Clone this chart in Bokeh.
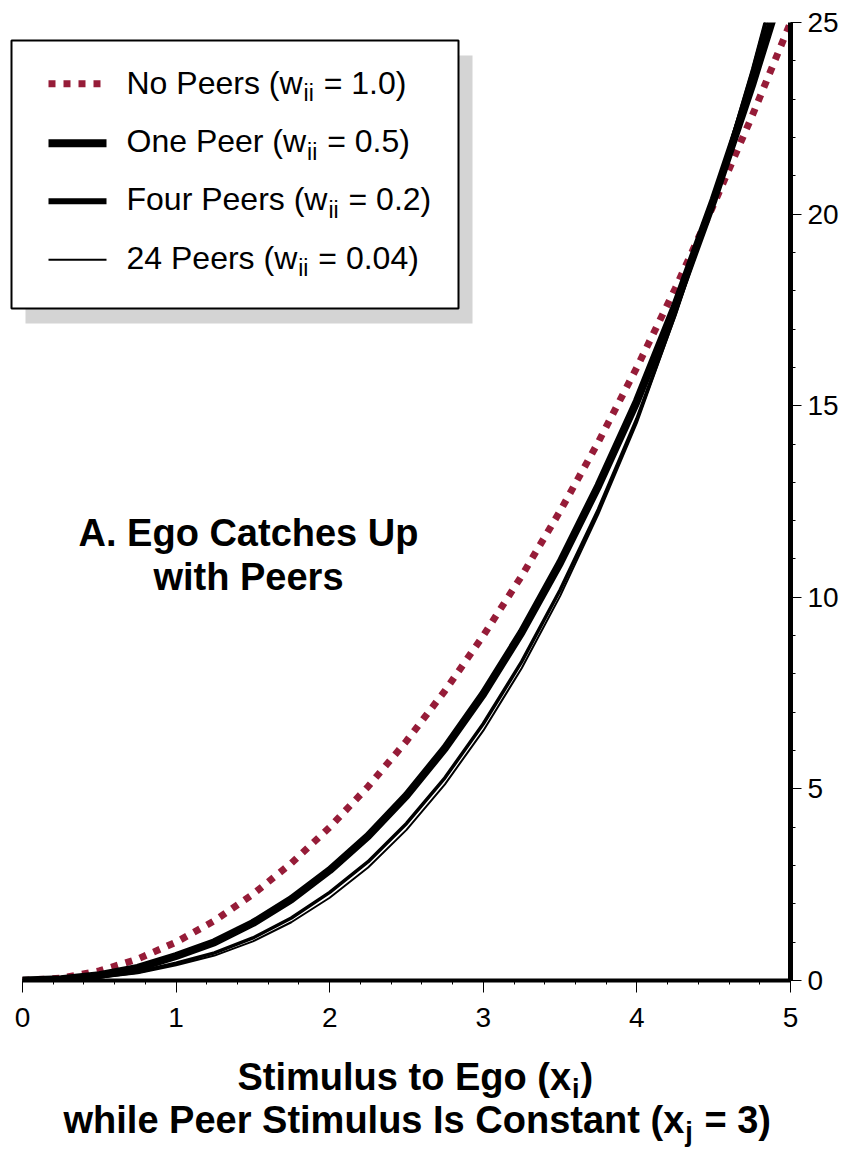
from bokeh.plotting import figure
from bokeh.models import Range1d, LinearAxis, FixedTicker, Label
from bokeh.layouts import column
from bokeh.embed import file_html
from bokeh.resources import INLINE

# ---------------- data ----------------
x_stim = [0, 0.25, 0.5, 0.75, 1.0, 1.25, 1.5, 1.75, 2.0, 2.25, 2.5, 2.75,
          3.0, 3.25, 3.5, 3.75, 4.0, 4.25, 4.5, 4.75, 5.0]
no_peers = [0, 0.06, 0.25, 0.56, 1.0, 1.56, 2.25, 3.06, 4.0, 5.06, 6.25, 7.56,
            9.0, 10.56, 12.25, 14.06, 16.0, 18.06, 20.25, 22.56, 25.0]
one_peer = [0, 0.03, 0.14, 0.33, 0.64, 1.0, 1.5, 2.12, 2.88, 3.77, 4.83, 6.06,
            7.48, 9.09, 10.9, 12.92, 15.12, 17.62, 20.38, 23.37, 26.6]
four_peers = [0, 0.02, 0.09, 0.22, 0.45, 0.72, 1.11, 1.63, 2.3, 3.1, 4.1, 5.29,
              6.7, 8.32, 10.19, 12.3, 14.66, 17.39, 20.38, 23.69, 27.35]
peers_24 = [0, 0.01, 0.07, 0.19, 0.4, 0.65, 1.02, 1.52, 2.16, 2.95, 3.93, 5.12,
            6.52, 8.15, 10.03, 12.18, 14.55, 17.34, 20.4, 23.8, 27.55]

legend_prefix = ["No Peers (w", "One Peer (w", "Four Peers (w", "24 Peers (w"]
legend_sub = "ii"
legend_suffix = ["= 1.0)", "= 0.5)", "= 0.2)", "= 0.04)"]
x_ticks = [0, 1, 2, 3, 4, 5]
y_ticks = [0, 5, 10, 15, 20, 25]
title_lines = ["A. Ego Catches Up", "with Peers"]
xtitle_main = ["Stimulus to Ego (x", "while Peer Stimulus Is Constant (x"]
xtitle_sub = ["i", "j"]
xtitle_tail = [")", "= 3)"]
xtitle_tail_space = [False, True]

MAROON = "#961c38"
FONT = "Liberation Sans"

# ---------------- layout helpers (page pixels -> data) ----------------
W, H1 = 844, 1040
H2 = 1152 - H1
X0, X5, Y0, Y25 = 22.0, 790.0, 980.0, 22.0
XPX = (X5 - X0) / 5.0
YPX = (Y0 - Y25) / 25.0
BASE_FIX = 0.4  # Bokeh places an "alphabetic" label this fraction of its size lower


def dx(px):
    return (px - X0) / XPX


def dy(py):
    return (Y0 - py) / YPX


REG = {' ': 278, '(': 333, ')': 333, '=': 584, '.': 278, 'N': 722, 'O': 778,
       'F': 611, 'P': 667, 'o': 556, 'n': 556, 'e': 556, 'r': 333, 's': 500,
       'u': 556, 'w': 722, 'i': 222}
BOLD = {' ': 278, '(': 333, ')': 333, '=': 584, 'S': 667, 't': 333, 'i': 278,
        'm': 889, 'u': 611, 'l': 278, 's': 556, 'o': 611, 'E': 667, 'g': 611,
        'x': 556, 'w': 778, 'h': 611, 'e': 556, 'P': 667, 'r': 389, 'I': 278,
        'C': 722, 'n': 611, 'a': 556, 'j': 278}


def tw(s, size, table):
    return sum(table.get(c, 556) for c in s) * size / 1000.0


p = figure(width=W, height=H1,
           x_range=Range1d(dx(0), 5), y_range=Range1d(0, 25),
           x_axis_type=None, y_axis_type=None,
           toolbar_location=None, output_backend="svg",
           min_border_left=0, min_border_top=int(Y25),
           min_border_right=W - int(X5), min_border_bottom=H1 - int(Y0))
p.outline_line_color = None
p.background_fill_color = "white"
p.border_fill_color = "white"

# axes
x_minor = [t + k * 0.2 for t in x_ticks[:-1] for k in range(1, 5)]
xaxis = LinearAxis(ticker=FixedTicker(ticks=x_ticks, minor_ticks=x_minor), bounds=(0, 5))
y_minor = [t + k for t in y_ticks[:-1] for k in range(1, 5)]
yaxis = LinearAxis(ticker=FixedTicker(ticks=y_ticks, minor_ticks=y_minor))
for ax, lw, tout, mout, stand in ((xaxis, 4, 12, 4, 15), (yaxis, 5, 11, 5, 6)):
    ax.axis_line_width = lw
    ax.axis_line_color = "black"
    ax.major_tick_in = 0
    ax.major_tick_out = tout
    ax.minor_tick_in = 0
    ax.minor_tick_out = mout
    ax.major_tick_line_color = "black"
    ax.minor_tick_line_color = "black"
    ax.major_tick_line_width = 1
    ax.minor_tick_line_width = 1
    ax.major_label_text_font = FONT
    ax.major_label_text_font_size = "28px"
    ax.major_label_text_color = "black"
    ax.major_label_standoff = stand
p.add_layout(xaxis, "below")
p.add_layout(yaxis, "right")

# curves
p.line(x_stim, no_peers, line_color=MAROON, line_width=7, line_dash="7 8", line_cap="butt")
p.line(x_stim, peers_24, line_color="black", line_width=2, line_join="round")
p.line(x_stim, four_peers, line_color="black", line_width=3.5, line_join="round")
p.line(x_stim, one_peer, line_color="black", line_width=8, line_join="round")


def label(fig, fx, fy, x_px, base_px, text, size, bold=False, align="left"):
    fig.add_layout(Label(x=fx(x_px), y=fy(base_px - BASE_FIX * size), text=text,
                         text_font=FONT, text_font_size=f"{size}px",
                         text_font_style="bold" if bold else "normal",
                         text_align=align, text_baseline="alphabetic",
                         text_color="black"))


# legend (drawn by hand so that the subscripts are real text)
p.quad(left=dx(25), right=dx(472), top=dy(55), bottom=dy(323),
       fill_color="#d4d4d4", line_color=None)
p.quad(left=dx(11), right=dx(458), top=dy(40), bottom=dy(308),
       fill_color="white", line_color="black", line_width=2)
sample_y = [83.3, 142.7, 200.7, 259.3]
base_y = [95, 153.3, 211.7, 270]
styles = [dict(line_color=MAROON, line_width=7, line_dash="7 8", line_cap="butt"),
          dict(line_color="black", line_width=8),
          dict(line_color="black", line_width=6),
          dict(line_color="black", line_width=2)]
LS, SS = 32, 23
for i in range(4):
    p.line([dx(48), dx(106)], [dy(sample_y[i])] * 2, **styles[i])
    x1 = 126
    label(p, dx, dy, x1, base_y[i], legend_prefix[i], LS)
    x2 = x1 + tw(legend_prefix[i], LS, REG) + 1
    label(p, dx, dy, x2, base_y[i] + 7, legend_sub, SS)
    x3 = x2 + tw(legend_sub, SS, REG) + tw(" ", LS, REG) + 1
    label(p, dx, dy, x3, base_y[i], legend_suffix[i], LS)

# panel title inside the plot
for txt, by in zip(title_lines, [548, 592]):
    label(p, dx, dy, 248, by, txt, 38, bold=True, align="center")

# x-axis title (second figure right under the first, so that it is not clipped);
# its frame is aligned with the main frame (page x 0..790), mapped 1:1 to pixels
p2 = figure(width=W, height=H2, x_range=Range1d(0, X5), y_range=Range1d(0, H2),
            x_axis_type=None, y_axis_type=None, toolbar_location=None,
            output_backend="svg", min_border_left=0, min_border_right=W - int(X5),
            min_border_top=0, min_border_bottom=0)
p2.outline_line_color = None
p2.background_fill_color = "white"
p2.border_fill_color = "white"


def px_x(px):
    return px


def px_y(py):
    return 1152 - py


TS, TSS = 38, 27
for main, sub, tail, sp, sx, by in zip(xtitle_main, xtitle_sub, xtitle_tail,
                                       xtitle_tail_space, [237, 63], [1092, 1135]):
    label(p2, px_x, px_y, sx, by, main, TS, bold=True)
    x2 = sx + tw(main, TS, BOLD) + 1
    label(p2, px_x, px_y, x2, by + 7, sub, TSS, bold=True)
    x3 = x2 + tw(sub, TSS, BOLD) + 1 + (tw(" ", TS, BOLD) if sp else 0)
    label(p2, px_x, px_y, x3, by, tail, TS, bold=True)

layout = column(p, p2, spacing=0)
open("out.html", "w").write(file_html(layout, INLINE))
